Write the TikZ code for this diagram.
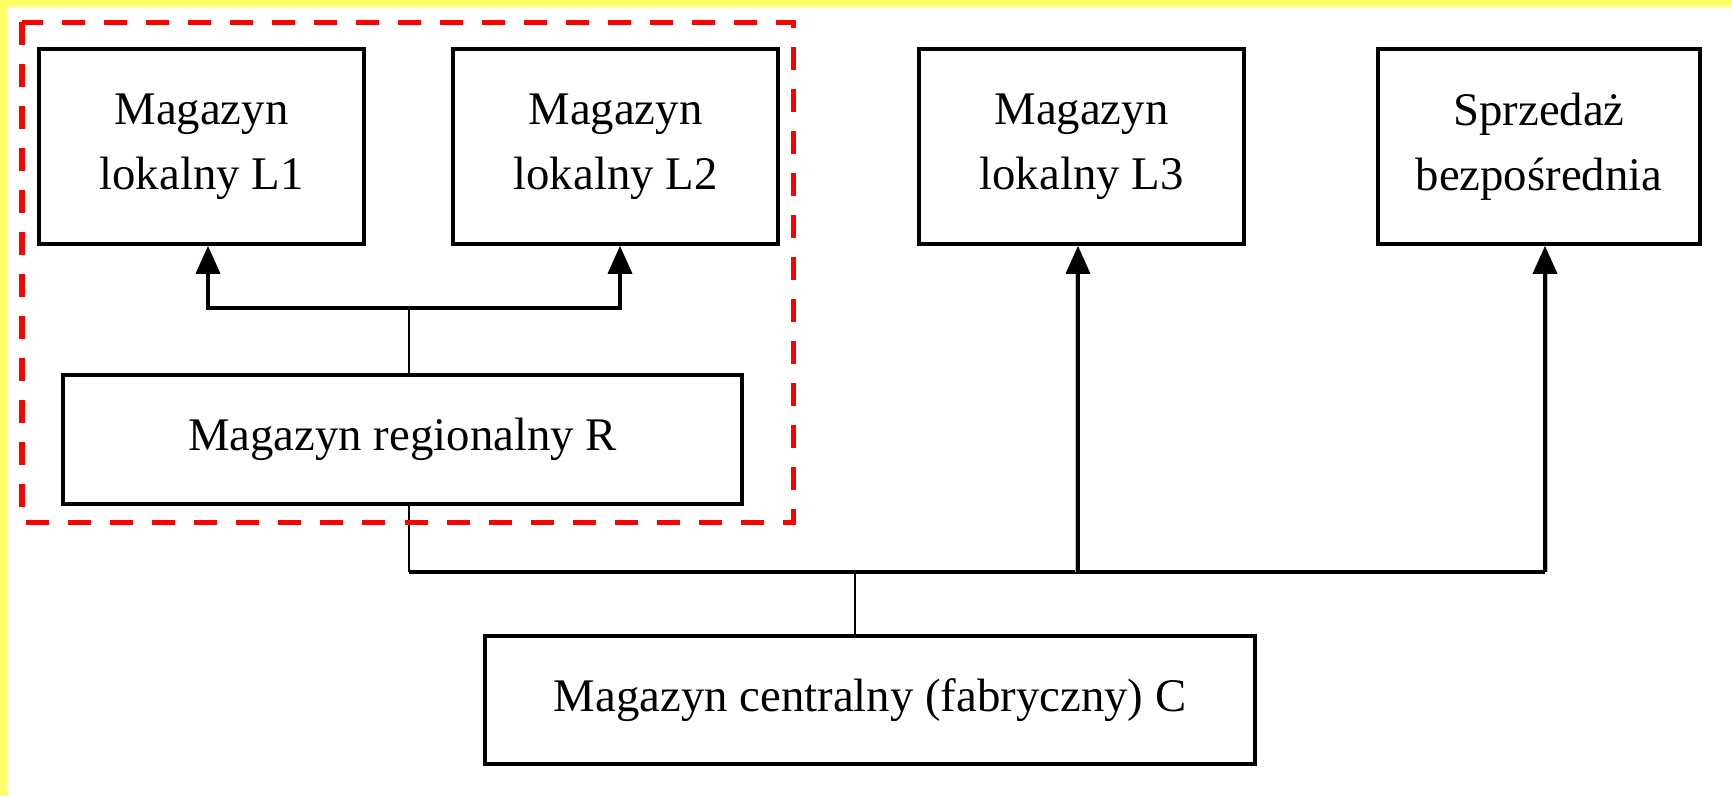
\documentclass[tikz,border=0pt]{standalone}
\usepackage{fontspec}
\setmainfont{Liberation Serif}
\usetikzlibrary{arrows.meta}
\definecolor{yel}{RGB}{255,255,102}
\definecolor{frame}{RGB}{255,0,0}
\definecolor{shadowgray}{RGB}{190,190,190}
\begin{document}
\begin{tikzpicture}[x=0.01cm,y=-0.01cm,
  box/.style={draw, line width=0.035cm, align=center, inner sep=0pt,
    font=\fontsize{13.3pt}{18.5pt}\selectfont},
  lbox/.style={box, minimum width=3.25cm, minimum height=1.95cm},
  thkln/.style={line width=0.035cm},
  thinln/.style={line width=0.02cm},
  shadowln/.style={line width=0.02cm, shadowgray},
  arr/.style={-{Triangle[width=0.24cm,length=0.28cm]}},
  grp/.style={frame, line width=0.05cm, dash pattern=on 0.23cm off 0.19cm}
  ]
\fill[yel] (0,0) rectangle (1732,7);
\fill[yel] (0,0) rectangle (7,796);
\useasboundingbox (0,0) rectangle (1732,796);

\node[lbox] (L1) at (201.5,146.5) {Magazyn\\lokalny L1};
\node[lbox] (L2) at (615.5,146.5) {Magazyn\\lokalny L2};
\node[lbox] (L3) at (1081.5,146.5) {Magazyn\\lokalny L3};
\node[box, minimum width=3.22cm, minimum height=1.95cm] (S) at (1539,146.5) {Sprzedaż\\bezpośrednia};
\node[box, minimum width=6.79cm, minimum height=1.29cm] (R) at (402.5,439.5) {Magazyn regionalny R};
\node[box, minimum width=7.70cm, minimum height=1.28cm] (C) at (870,700) {Magazyn centralny (fabryczny) C};

% regional to local
\coordinate (jR) at (409,308);
\draw[thinln] (R.north -| jR) -- (jR);
\draw[thkln, arr] (jR) -| ([xshift=0.065cm]L1.south);
\draw[thkln, arr] (jR) -| ([xshift=0.045cm]L2.south);

% central distribution
\coordinate (jC) at (855,572);
\coordinate (aL3) at ([xshift=-0.035cm]L3.south);
\coordinate (aS) at ([xshift=0.06cm]S.south);
\coordinate (bR) at (jR |- jC);
\coordinate (bL3) at (aL3 |- jC);
\coordinate (bS) at (aS |- jC);
\draw[thinln] (C.north -| jC) -- (jC);
\draw[thinln] (R.south -| jR) -- (bR);
\draw[thkln] (bR) -- (bS);
\draw[shadowln] ([xshift=-0.024cm]bL3) -- ([xshift=-0.024cm,yshift=-0.2cm]aL3);
\draw[shadowln] ([xshift=0.024cm]bS) -- ([xshift=0.024cm,yshift=-0.2cm]aS);
\draw[thkln, arr] (bL3) -- (aL3);
\draw[thkln, arr] (bS) -- (aS);

% group frame
\draw[grp] (22,22) rectangle (793,522);
\end{tikzpicture}
\end{document}
